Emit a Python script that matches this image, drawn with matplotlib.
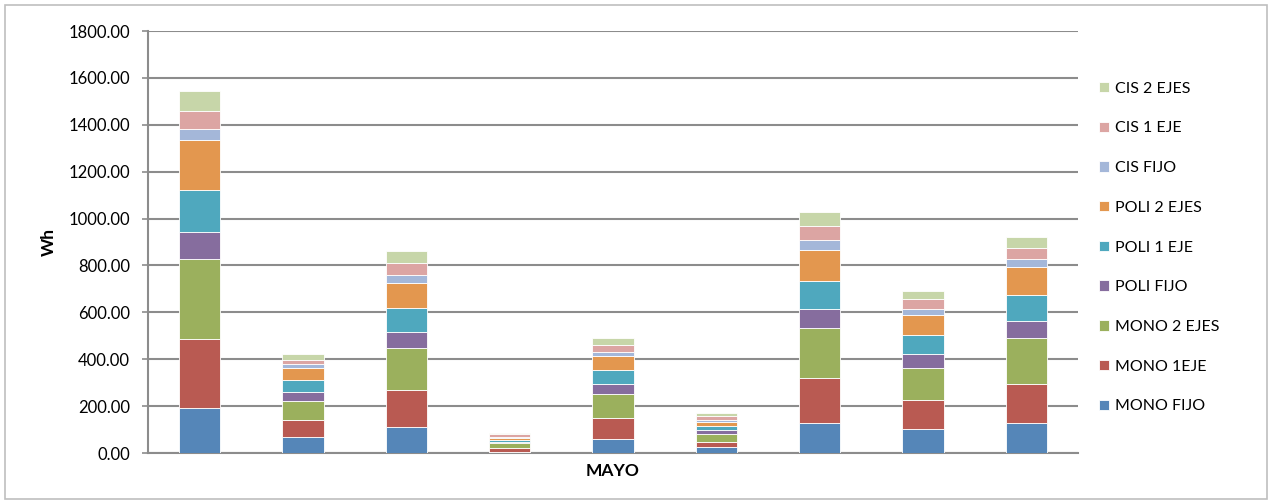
import matplotlib.pyplot as plt
from matplotlib.patches import Rectangle
import numpy as np

plt.rcParams['font.family'] = ['Lato', 'DejaVu Sans']

# one bar per day/site, all under the single category "MAYO"
series = ['MONO FIJO', 'MONO 1EJE', 'MONO 2 EJES', 'POLI FIJO', 'POLI 1 EJE',
          'POLI 2 EJES', 'CIS FIJO', 'CIS 1 EJE', 'CIS 2 EJES']
colors = ['#5586B8', '#B95A52', '#9BB05D', '#866D9E', '#4FA8BE',
          '#E3974F', '#A4B7D9', '#DCA5A3', '#C7D6A9']

mono_fijo = [193, 67, 110, 6, 58, 24, 127, 101, 127]
mono_1eje = [294, 75, 160, 17, 93, 24, 194, 126, 169]
mono_2ejes = [339, 78, 178, 21, 102, 34, 211, 136, 193]
poli_fijo = [118, 41, 67, 4, 43, 15, 84, 58, 75]
poli_1eje = [179, 52, 102, 6, 58, 17, 118, 84, 111]
poli_2ejes = [211, 51, 109, 12, 60, 17, 133, 85, 118]
cis_fijo = [49, 17, 33, 4, 15, 11, 43, 26, 33]
cis_1eje = [77, 16, 51, 9, 33, 17, 59, 41, 50]
cis_2ejes = [85, 25, 52, 8, 28, 10, 60, 35, 44]

data = [mono_fijo, mono_1eje, mono_2ejes, poli_fijo, poli_1eje,
        poli_2ejes, cis_fijo, cis_1eje, cis_2ejes]

fig = plt.figure(figsize=(12.7, 5.04), dpi=100)
ax = fig.add_axes([148 / 1270, 51 / 504, 930 / 1270, 422 / 504])

x = np.arange(len(mono_fijo))
bottom = np.zeros(len(x))
handles = []
for name, vals, c in zip(series, data, colors):
    b = ax.bar(x, vals, width=0.4, bottom=bottom, color=c, label=name,
               edgecolor='white', linewidth=0.6, zorder=3)
    handles.append(b)
    bottom += np.array(vals)

ax.set_xlim(-0.5, 8.5)
ax.set_ylim(0, 1800)
ax.set_yticks(np.arange(0, 1801, 200))
ax.set_yticklabels(['%.2f' % v for v in np.arange(0, 1801, 200)], fontsize=12)
ax.set_xticks([])
ax.grid(axis='y', color='#8C8C8C', linewidth=1.5, zorder=0)
ax.tick_params(axis='y', length=4, width=1.2, color='#8C8C8C', pad=9)
for s in ['top', 'right']:
    ax.spines[s].set_visible(False)
ax.spines['left'].set_color('#8C8C8C')
ax.spines['bottom'].set_color('#8C8C8C')
ax.spines['left'].set_linewidth(1.5)
ax.spines['bottom'].set_linewidth(1.5)

ax.set_ylabel('Wh', fontsize=12.5, fontweight='bold', labelpad=8)
ax.set_xlabel('MAYO', fontsize=12.5, fontweight='bold', labelpad=7)

fig.legend(handles[::-1], series[::-1], loc='center left',
           bbox_to_anchor=(1099 / 1270, 1 - 247.5 / 504), frameon=False,
           fontsize=11.5, labelspacing=1.61, handlelength=0.63, handleheight=0.63,
           handletextpad=0.4, borderpad=0, borderaxespad=0)

fig.patches.append(Rectangle((5 / 1270, 5 / 504), 1262 / 1270, 494 / 504,
                             transform=fig.transFigure, fill=False,
                             edgecolor='#BFBFBF', linewidth=1.2))

plt.savefig('out.png', dpi=100)
